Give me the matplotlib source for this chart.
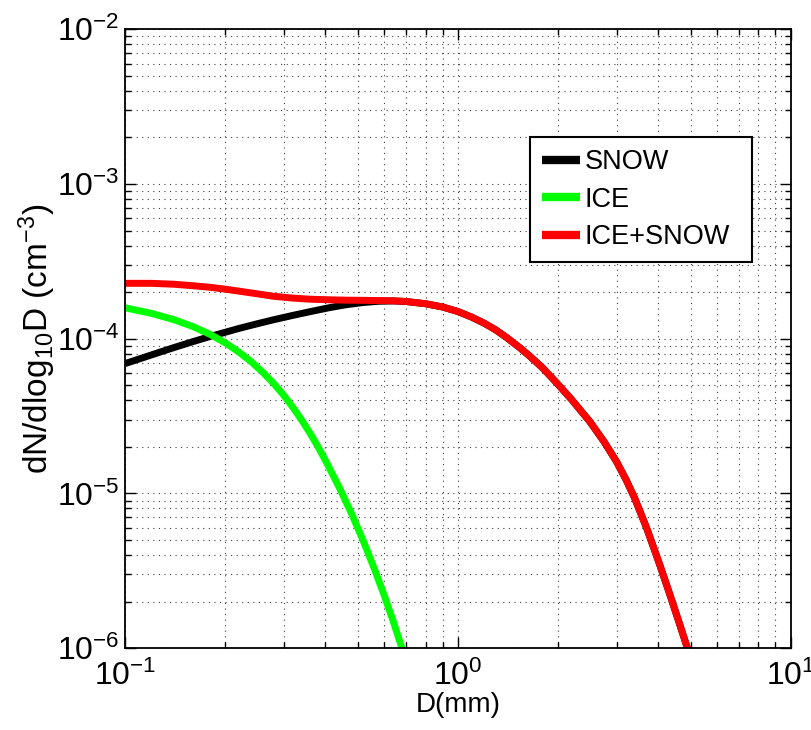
import numpy as np
import matplotlib
matplotlib.use("Agg")
import matplotlib.pyplot as plt

plt.rcParams['font.family'] = ['Liberation Sans', 'DejaVu Sans']
plt.rcParams['mathtext.fontset'] = 'custom'
plt.rcParams['mathtext.rm'] = 'Liberation Sans'
plt.rcParams['mathtext.it'] = 'Liberation Sans'
plt.rcParams['mathtext.default'] = 'regular'

# Values (D in mm, concentration in cm^-3)
snow_d = [0.10, 0.12, 0.14, 0.16, 0.18, 0.20, 0.22, 0.25, 0.28, 0.32, 0.36, 0.41,
          0.46, 0.52, 0.58, 0.64, 0.70, 0.80, 0.90, 1.0, 1.1, 1.2, 1.3, 1.4, 1.535,
          1.65, 1.8, 1.98, 2.2, 2.49, 2.75, 3.0, 3.2, 3.4, 3.7, 4.04, 4.3, 4.6, 4.91]
snow_n = [6.90e-5, 7.85e-5, 8.75e-5, 9.57e-5, 1.033e-4, 1.10e-4, 1.165e-4, 1.25e-4,
          1.327e-4, 1.416e-4, 1.496e-4, 1.585e-4, 1.656e-4, 1.714e-4, 1.746e-4, 1.754e-4,
          1.738e-4, 1.683e-4, 1.603e-4, 1.50e-4, 1.38e-4, 1.26e-4, 1.14e-4, 1.02e-4,
          8.75e-5, 7.67e-5, 6.46e-5, 5.19e-5, 4.03e-5, 2.92e-5, 2.16e-5, 1.60e-5,
          1.23e-5, 9.3e-6, 5.9e-6, 3.47e-6, 2.34e-6, 1.51e-6, 9.8e-7]

ice_d = [0.10, 0.12, 0.14, 0.16, 0.18, 0.20, 0.22, 0.24, 0.26, 0.28, 0.30, 0.32,
         0.34, 0.36, 0.38, 0.40, 0.44, 0.48, 0.52, 0.56, 0.60, 0.64, 0.68]
ice_n = [1.585e-4, 1.459e-4, 1.330e-4, 1.199e-4, 1.069e-4, 9.42e-5, 8.20e-5, 7.08e-5,
         6.05e-5, 5.13e-5, 4.31e-5, 3.59e-5, 2.97e-5, 2.45e-5, 2.01e-5, 1.64e-5,
         1.10e-5, 7.38e-6, 4.94e-6, 3.31e-6, 2.22e-6, 1.49e-6, 9.95e-7]

total_d = snow_d
total_n = [2.28e-4, 2.28e-4, 2.25e-4, 2.20e-4, 2.15e-4, 2.09e-4, 2.03e-4, 1.95e-4,
           1.88e-4, 1.83e-4, 1.80e-4, 1.785e-4, 1.775e-4, 1.77e-4, 1.765e-4, 1.758e-4,
           1.74e-4, 1.683e-4, 1.603e-4, 1.50e-4, 1.38e-4, 1.26e-4, 1.14e-4, 1.02e-4,
           8.75e-5, 7.67e-5, 6.46e-5, 5.19e-5, 4.03e-5, 2.92e-5, 2.16e-5, 1.60e-5,
           1.23e-5, 9.3e-6, 5.9e-6, 3.47e-6, 2.34e-6, 1.51e-6, 9.8e-7]

fig = plt.figure(figsize=(8.11, 7.3), dpi=100)
ax = fig.add_axes([0.154, 0.112, 0.821, 0.848])

ax.plot(snow_d, snow_n, color='black', lw=5, label='SNOW', solid_capstyle='butt')
ax.plot(ice_d, ice_n, color=(0, 1, 0), lw=5, label='ICE', solid_capstyle='butt')
ax.plot(total_d, total_n, color=(1, 0, 0), lw=5, label='ICE+SNOW', solid_capstyle='butt')

ax.set_xscale('log')
ax.set_yscale('log')
ax.set_xlim(0.1, 10)
ax.set_ylim(1e-6, 1e-2)

ax.grid(True, which='both', linestyle=(0, (1, 4)), color='0.25', lw=0.8)
ax.tick_params(which='both', direction='in', top=True, right=True, width=1)
ax.tick_params(which='major', length=8, labelsize=23)
ax.tick_params(axis='y', which='major', pad=4)
ax.tick_params(axis='x', which='major', pad=9)
ax.tick_params(which='minor', length=4)
for s in ax.spines.values():
    s.set_linewidth(1.3)

ax.set_xlabel('D(mm)', fontsize=20, labelpad=0)
ax.set_ylabel(r'dN/dlog$_{10}$D (cm$^{-3}$)', fontsize=24)
ax.yaxis.set_label_coords(-0.1, 0.5)

leg = ax.legend(loc='upper left', bbox_to_anchor=(0.608, 0.6, 0.3335, 0.2255),
                mode='expand', fontsize=19.5, fancybox=False, edgecolor='black',
                framealpha=1, handlelength=1.4, borderpad=0.44, labelspacing=0.43,
                handletextpad=0.2, borderaxespad=0)
leg.get_frame().set_linewidth(1.5)
for h in leg.get_lines():
    h.set_linewidth(6)

fig.savefig('out.png', dpi=100)
